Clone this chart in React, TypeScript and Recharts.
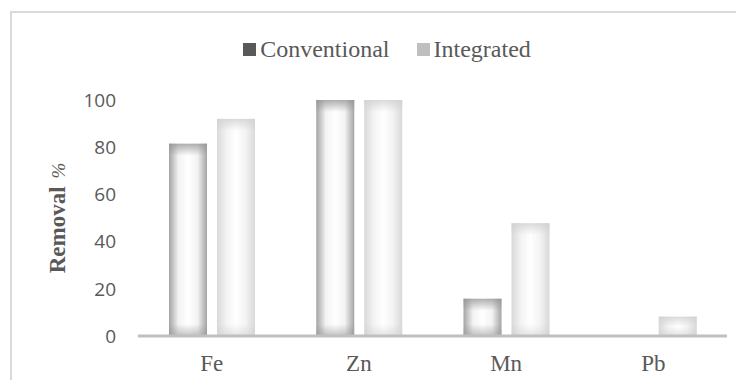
import React from "react";
import { BarChart, Bar, XAxis, YAxis, Label } from "recharts";

const metals = ["Fe", "Zn", "Mn", "Pb"];
const conventional = [81.5, 100, 15.8, 0];
const integrated = [92, 100, 47.8, 8.2];
const yTicks = [0, 20, 40, 60, 80, 100];

const data = metals.map((m, i) => ({
  metal: m,
  Conventional: conventional[i],
  Integrated: integrated[i],
}));

const SERIES = [
  { key: "Conventional", edge: "#a4a4a4", corner: "#949494", swatch: "#595959" },
  { key: "Integrated", edge: "#d9d9d9", corner: "#cfcfcf", swatch: "#bfbfbf" },
];

const SERIF = "'Liberation Serif', 'Times New Roman', serif";

let gid = 0;

// rectangular "from centre" shading like the office chart fill
function shadedBar(edge: string, corner: string) {
  return (props: any) => {
    const { x, y, width, height } = props;
    if (!height || height <= 0) return <g />;
    const id = `g${gid++}`;
    const band = Math.min(0.5, 12 / height);
    return (
      <g>
        <defs>
          <linearGradient id={`${id}h`} x1="0" y1="0" x2="1" y2="0">
            <stop offset="0" stopColor={edge} />
            <stop offset="0.25" stopColor="#f3f3f3" />
            <stop offset="0.5" stopColor="#ffffff" />
            <stop offset="0.75" stopColor="#f3f3f3" />
            <stop offset="1" stopColor={edge} />
          </linearGradient>
          <linearGradient id={`${id}v`} x1="0" y1="0" x2="0" y2="1">
            <stop offset="0" stopColor={corner} stopOpacity={0.75} />
            <stop offset={band} stopColor={corner} stopOpacity={0} />
            <stop offset={1 - band} stopColor={corner} stopOpacity={0} />
            <stop offset="1" stopColor={corner} stopOpacity={0.55} />
          </linearGradient>
        </defs>
        <rect x={x} y={y} width={width} height={height} fill={`url(#${id}h)`} />
        <rect x={x} y={y} width={width} height={height} fill={`url(#${id}v)`} />
      </g>
    );
  };
}

function TopLegend() {
  return (
    <div
      style={{
        position: "absolute",
        top: 36,
        left: 0,
        width: 744,
        paddingLeft: 30,
        boxSizing: "border-box",
        display: "flex",
        justifyContent: "center",
        alignItems: "center",
        fontFamily: SERIF,
        fontSize: 24,
        color: "#595959",
        lineHeight: "26px",
      }}
    >
      {SERIES.map((s, i) => (
        <span
          key={s.key}
          style={{ display: "flex", alignItems: "center", marginLeft: i ? 27 : 0 }}
        >
          <span
            style={{
              display: "inline-block",
              width: 13,
              height: 13,
              marginRight: 4,
              background: s.swatch,
            }}
          />
          {s.key}
        </span>
      ))}
    </div>
  );
}

export default function App() {
  gid = 0;
  return (
    <div
      style={{
        margin: -8,
        width: 744,
        height: 388,
        position: "relative",
        overflow: "hidden",
        background: "#fff",
      }}
    >
      <div
        style={{
          position: "absolute",
          left: 10,
          top: 11,
          width: 760,
          height: 400,
          borderTop: "2px solid #d9d9d9",
          borderLeft: "2px solid #d9d9d9",
        }}
      />
      <TopLegend />
      <BarChart
        width={744}
        height={388}
        data={data}
        margin={{ top: 100, right: 17, bottom: 22, left: 78 }}
        barSize={38}
        barGap={10}
        style={{ position: "absolute", left: 0, top: 0 }}
      >
        <XAxis
          dataKey="metal"
          height={30}
          axisLine={{ stroke: "#bfbfbf", strokeWidth: 3 }}
          tickLine={false}
          tickMargin={13}
          tick={{ fill: "#595959", fontSize: 23, fontFamily: SERIF }}
        />
        <YAxis
          width={60}
          domain={[0, 100]}
          ticks={yTicks}
          axisLine={false}
          tickLine={false}
          tickMargin={16}
          tick={{ fill: "#595959", fontSize: 19, fontFamily: "'Open Sans', sans-serif" }}
        >
          <Label
            content={() => (
              <text
                x={0}
                y={0}
                transform="translate(65,218) rotate(-90)"
                textAnchor="middle"
                fill="#595959"
                fontFamily={SERIF}
                fontSize={23}
              >
                <tspan fontWeight="bold">Removal</tspan>
                <tspan dx={8} fontStyle="italic" fontSize={19}>
                  %
                </tspan>
              </text>
            )}
          />
        </YAxis>
        {SERIES.map((s) => (
          <Bar
            key={s.key}
            dataKey={s.key}
            isAnimationActive={false}
            shape={shadedBar(s.edge, s.corner)}
          />
        ))}
      </BarChart>
    </div>
  );
}
